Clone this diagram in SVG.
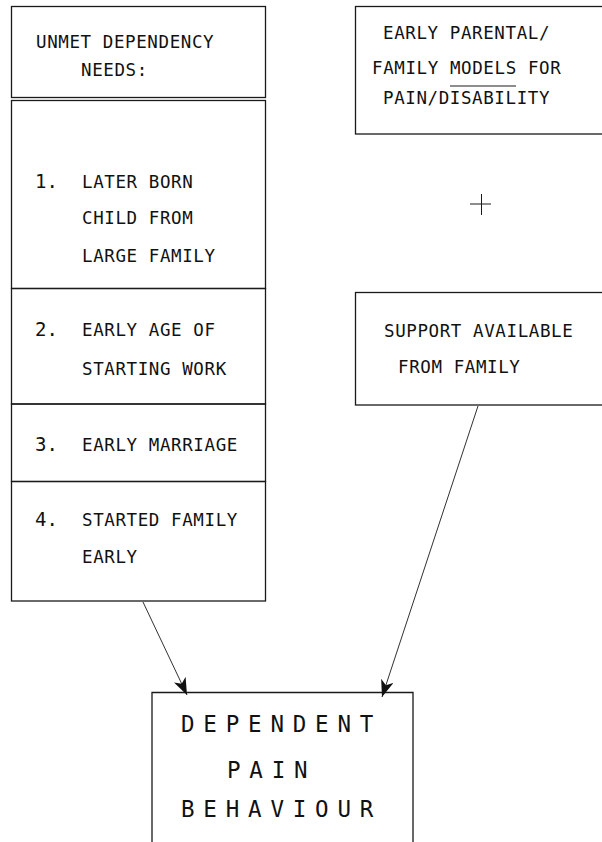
<svg xmlns="http://www.w3.org/2000/svg" width="602" height="842" viewBox="0 0 602 842">
  <style>
    .box { fill: none; stroke: #1a1a1a; stroke-width: 1.3; }
    .t { font-family: "DejaVu Sans Mono", "Liberation Mono", monospace; font-size: 17.5px; letter-spacing: 0.6px; fill: #111; }
    .n { font-family: "DejaVu Sans Mono", "Liberation Mono", monospace; font-size: 19px; fill: #111; }
    .big { font-family: "DejaVu Sans Mono", "Liberation Mono", monospace; font-size: 22.5px; letter-spacing: 8.8px; fill: #111; }
    .conn { fill: none; stroke: #1a1a1a; stroke-width: 0.9; }
  </style>
  <defs>
    <marker id="head" viewBox="0 0 17 13" refX="17" refY="6.5" markerWidth="17" markerHeight="13" markerUnits="userSpaceOnUse" orient="auto">
      <path d="M0,0 L17,6.5 L0,13 L4.5,6.5 z" fill="#111"/>
    </marker>
  </defs>

  <rect width="602" height="842" fill="#fff"/>

  <!-- left column: header cell and numbered needs -->
  <g id="needs-header">
    <rect class="box" x="11.5" y="6.5" width="254" height="91"/>
    <text class="t" x="36" y="48">UNMET DEPENDENCY</text>
    <text class="t" x="81" y="76">NEEDS:</text>
  </g>
  <g id="need-1">
    <rect class="box" x="11.5" y="100.5" width="254" height="188"/>
    <text class="n" x="35" y="188">1.</text>
    <text class="t" x="82" y="188">LATER BORN</text>
    <text class="t" x="82" y="224">CHILD FROM</text>
    <text class="t" x="82" y="262">LARGE FAMILY</text>
  </g>
  <g id="need-2">
    <rect class="box" x="11.5" y="288.5" width="254" height="115.5"/>
    <text class="n" x="35" y="336">2.</text>
    <text class="t" x="82" y="336">EARLY AGE OF</text>
    <text class="t" x="82" y="375">STARTING WORK</text>
  </g>
  <g id="need-3">
    <rect class="box" x="11.5" y="404" width="254" height="77.5"/>
    <text class="n" x="35" y="451">3.</text>
    <text class="t" x="82" y="451">EARLY MARRIAGE</text>
  </g>
  <g id="need-4">
    <rect class="box" x="11.5" y="481.5" width="254" height="119.5"/>
    <text class="n" x="35" y="526">4.</text>
    <text class="t" x="82" y="526">STARTED FAMILY</text>
    <text class="t" x="82" y="563">EARLY</text>
  </g>

  <!-- right column -->
  <g id="parental-models">
    <rect class="box" x="355.5" y="6.5" width="260" height="127.5"/>
    <text class="t" x="383" y="39">EARLY PARENTAL/</text>
    <text class="t" x="372" y="74">FAMILY MODELS FOR</text>
    <line x1="450" y1="86" x2="516" y2="86" stroke="#1a1a1a" stroke-width="1"/>
    <text class="t" x="383" y="104">PAIN/DISABILITY</text>
  </g>
  <g id="plus">
    <line x1="470" y1="204" x2="491" y2="204" stroke="#1a1a1a" stroke-width="1"/>
    <line x1="481.5" y1="194" x2="481.5" y2="215" stroke="#1a1a1a" stroke-width="1"/>
  </g>
  <g id="family-support">
    <rect class="box" x="355.5" y="292.5" width="260" height="112.5"/>
    <text class="t" x="384" y="337">SUPPORT AVAILABLE</text>
    <text class="t" x="398" y="373">FROM FAMILY</text>
  </g>

  <!-- outcome -->
  <g id="dependent-pain-behaviour">
    <path class="box" d="M152,850 V692.5 H413 V850"/>
    <text class="big" x="181" y="732">DEPENDENT</text>
    <text class="big" x="227" y="778">PAIN</text>
    <text class="big" x="181" y="817">BEHAVIOUR</text>
  </g>

  <g id="connectors">
    <line class="conn" x1="143" y1="602" x2="187" y2="695" marker-end="url(#head)"/>
    <line class="conn" x1="478" y1="406" x2="382" y2="697" marker-end="url(#head)"/>
  </g>
</svg>
